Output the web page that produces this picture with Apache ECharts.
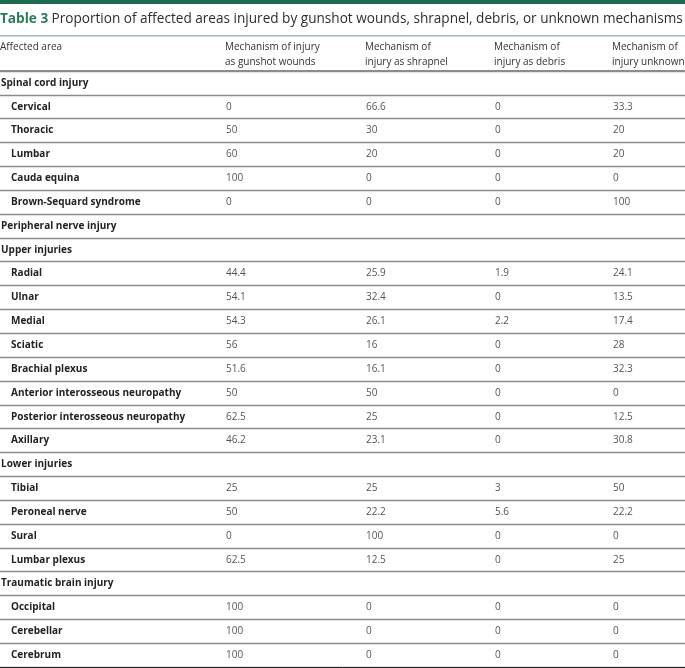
<!DOCTYPE html>
<html>
<head>
<meta charset="utf-8">
<script src="https://cdn.jsdelivr.net/npm/echarts@6/dist/echarts.min.js"></script>
<style>
html,body{margin:0;padding:0;background:#fff;}
#chart{width:685px;height:668px;}
</style>
</head>
<body>
<div id="chart"></div>
<script>
// ---- Data ----
const titleLabel = 'Table 3';
const titleText = 'Proportion of affected areas injured by gunshot wounds, shrapnel, debris, or unknown mechanisms';
const headers = ['Affected area', 'Mechanism of injury\nas gunshot wounds', 'Mechanism of\ninjury as shrapnel', 'Mechanism of\ninjury as debris', 'Mechanism of\ninjury unknown'];
const rows = ['Spinal cord injury', 'Cervical', 'Thoracic', 'Lumbar', 'Cauda equina', 'Brown-Sequard syndrome',
  'Peripheral nerve injury', 'Upper injuries', 'Radial', 'Ulnar', 'Medial', 'Sciatic', 'Brachial plexus',
  'Anterior interosseous neuropathy', 'Posterior interosseous neuropathy', 'Axillary', 'Lower injuries',
  'Tibial', 'Peroneal nerve', 'Sural', 'Lumbar plexus', 'Traumatic brain injury', 'Occipital', 'Cerebellar', 'Cerebrum'];
// 0 = section heading (no indent), 1 = indented item
const rowLevel = [0,1,1,1,1,1, 0,0,1,1,1,1,1,1,1,1,0, 1,1,1,1, 0,1,1,1];
const gunshot  = [null,0,50,60,100,0, null,null,44.4,54.1,54.3,56,51.6,50,62.5,46.2, null,25,50,0,62.5, null,100,100,100];
const shrapnel = [null,66.6,30,20,0,0, null,null,25.9,32.4,26.1,16,16.1,50,25,23.1, null,25,22.2,100,12.5, null,0,0,0];
const debris   = [null,0,0,0,0,0, null,null,1.9,0,2.2,0,0,0,0,0, null,3,5.6,0,0, null,0,0,0];
const unknown  = [null,33.3,20,20,0,100, null,null,24.1,13.5,17.4,28,32.3,0,12.5,30.8, null,50,22.2,0,25, null,0,0,0];

// ---- Layout ----
const colX = [1, 226, 366, 495, 613];
const indentX = 11;
const FONT = '"Open Sans", "Noto Sans", sans-serif';

const valueCols = [gunshot, shrapnel, debris, unknown];
const cells = [];
rows.forEach((name, r) => {
  cells.push({x: rowLevel[r] ? indentX : colX[0], r: r, text: name, kind: 'label'});
  valueCols.forEach((arr, c) => {
    if (arr[r] !== null && arr[r] !== undefined) {
      cells.push({x: colX[c + 1], r: r, text: String(arr[r]), kind: 'value'});
    }
  });
});

const chart = echarts.init(document.getElementById('chart'), null, {renderer: 'canvas'});

const headerGraphics = headers.map((h, i) => ({
  type: 'text',
  left: i === 0 ? 0 : colX[i] - 1,
  top: 40,
  style: {text: h, fill: '#333', font: '10px ' + FONT, lineHeight: 15}
}));

const option = {
  animation: false,
  backgroundColor: '#fff',
  grid: {left: 0, right: 0, top: 71, bottom: 1, containLabel: false},
  xAxis: {
    type: 'value', min: 0, max: 685,
    axisLine: {show: true, onZero: false, lineStyle: {color: '#222', width: 1}},
    axisTick: {show: false}, axisLabel: {show: false}, splitLine: {show: false}
  },
  yAxis: {
    type: 'category', data: rows, inverse: true,
    axisLine: {show: false}, axisTick: {show: false}, axisLabel: {show: false},
    splitLine: {show: true, lineStyle: {color: '#8c8c8c', width: 1.3}}
  },
  graphic: [
    {type: 'rect', left: 0, top: 0, shape: {width: 685, height: 4}, style: {fill: '#1f6b4d'}},
    {type: 'text', left: 0, top: 12, style: {
      text: '{a|' + titleLabel + '} {b|' + titleText + '}',
      rich: {
        a: {fontFamily: FONT, fontSize: 13.6, fontWeight: 'bold', fill: '#2b7a59'},
        b: {fontFamily: FONT, fontSize: 13.6, fill: '#2e2e2e'}
      }
    }},
    {type: 'rect', left: 0, top: 35, shape: {width: 685, height: 1.5}, style: {fill: '#9dbcae'}},
    {type: 'rect', left: 0, top: 70, shape: {width: 685, height: 2}, style: {fill: '#8c8c8c'}}
  ].concat(headerGraphics),
  series: [{
    type: 'custom',
    coordinateSystem: 'cartesian2d',
    data: cells.map(c => [c.x, c.r]),
    renderItem: function (params, api) {
      const cell = cells[params.dataIndex];
      const p = api.coord([api.value(0), api.value(1)]);
      const isLabel = cell.kind === 'label';
      return {
        type: 'text',
        x: p[0], y: p[1],
        style: {
          text: cell.text,
          fill: isLabel ? '#222' : '#555',
          font: (isLabel ? 'bold ' : '') + '10px ' + FONT,
          textAlign: 'left',
          textVerticalAlign: 'middle'
        }
      };
    }
  }]
};
chart.setOption(option);
</script>
</body>
</html>
